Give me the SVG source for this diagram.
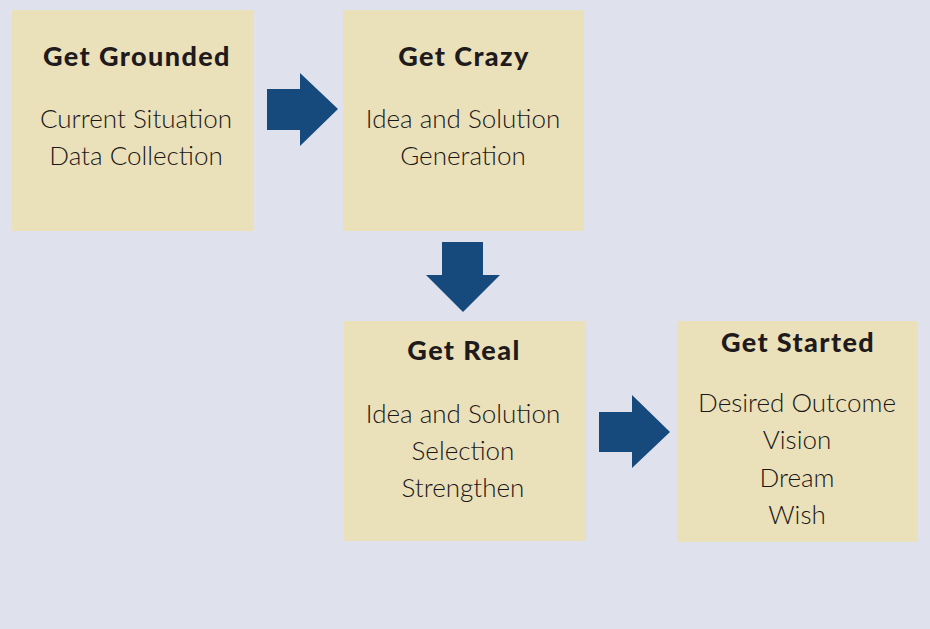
<svg xmlns="http://www.w3.org/2000/svg" width="930" height="629" viewBox="0 0 930 629">
  <style>
    .box { fill: #eae0b9; }
    .arrow { fill: #164a7c; }
    .title { font-family: Lato, "Open Sans", "Liberation Sans", sans-serif; font-weight: 900; font-size: 27px; letter-spacing: 1.4px; fill: #1f1b1c; text-anchor: middle; }
    .body { font-family: Lato, "Open Sans", "Liberation Sans", sans-serif; font-weight: 300; font-size: 26px; fill: #1a1718; text-anchor: middle; }
  </style>
  <rect width="930" height="629" fill="#dfe2ec"/>

  <g id="get-grounded">
    <rect class="box" x="12" y="10" width="242" height="221"/>
    <text class="title" x="137" y="66">Get Grounded</text>
    <text class="body" x="136" y="128">Current Situation</text>
    <text class="body" x="136" y="165">Data Collection</text>
  </g>

  <g id="get-crazy">
    <rect class="box" x="343" y="10" width="241" height="221"/>
    <text class="title" x="464" y="66">Get Crazy</text>
    <text class="body" x="463" y="128">Idea and Solution</text>
    <text class="body" x="463" y="165">Generation</text>
  </g>

  <g id="get-real">
    <rect class="box" x="344" y="321" width="242" height="220"/>
    <text class="title" x="464" y="360">Get Real</text>
    <text class="body" x="463" y="423">Idea and Solution</text>
    <text class="body" x="463" y="460">Selection</text>
    <text class="body" x="463" y="497">Strengthen</text>
  </g>

  <g id="get-started">
    <rect class="box" x="677" y="321" width="241" height="221"/>
    <text class="title" x="798" y="352">Get Started</text>
    <text class="body" x="797" y="412">Desired Outcome</text>
    <text class="body" x="797" y="449">Vision</text>
    <text class="body" x="797" y="487">Dream</text>
    <text class="body" x="797" y="524">Wish</text>
  </g>

  <g id="connectors">
    <polygon class="arrow" points="267,89 300,89 300,73 338,109 300,146 300,130 267,130"/>
    <polygon class="arrow" points="442,242 483,242 483,275 500,275 463,312 426,275 442,275"/>
    <polygon class="arrow" points="599,412 632,412 632,395 670,432 632,468 632,452 599,452"/>
  </g>
</svg>
